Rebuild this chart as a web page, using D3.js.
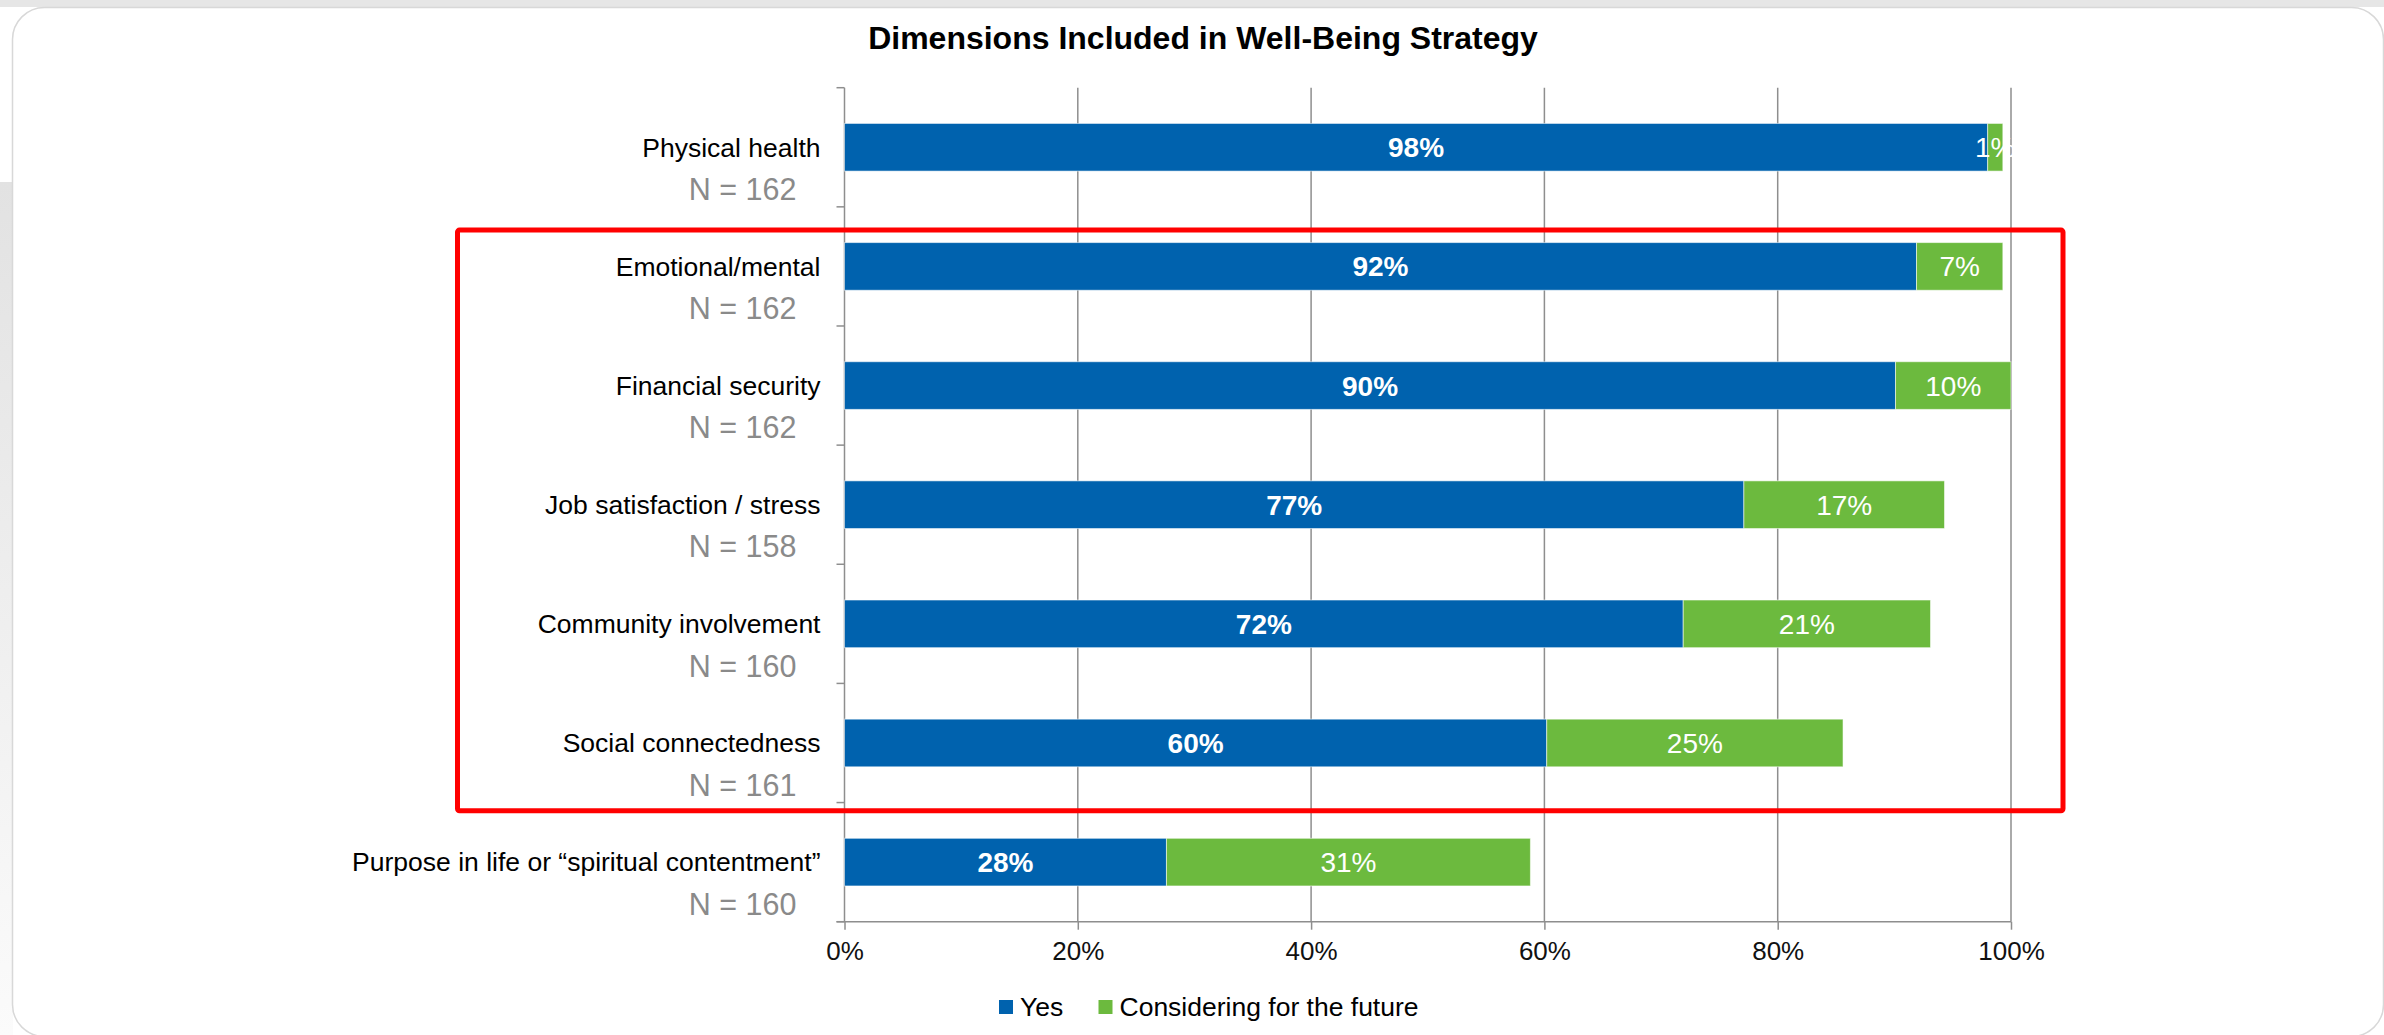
<!DOCTYPE html>
<html>
<head>
<meta charset="utf-8">
<script src="https://cdn.jsdelivr.net/npm/d3@7"></script>
<style>
  html, body { margin: 0; padding: 0; background: #fff; }
  svg { display: block; font-family: 'Liberation Sans', Arial, sans-serif; }
</style>
</head>
<body>
<svg id="chart"></svg>
<script>
'use strict';

var categories = ['Physical health', 'Emotional/mental', 'Financial security',
  'Job satisfaction / stress', 'Community involvement', 'Social connectedness',
  'Purpose in life or \u201cspiritual contentment\u201d'];
var sampleSizes = [162, 162, 162, 158, 160, 161, 160];
var yesValues = [98.0, 91.9, 90.1, 77.1, 71.9, 60.2, 27.6];
var futureValues = [1.3, 7.4, 9.9, 17.2, 21.2, 25.4, 31.2];
var yesLabels = ['98%', '92%', '90%', '77%', '72%', '60%', '28%'];
var futureLabels = ['1%', '7%', '10%', '17%', '21%', '25%', '31%'];
var xTicks = [0, 20, 40, 60, 80, 100];
var seriesNames = ['Yes', 'Considering for the future'];
var highlighted = ['Emotional/mental', 'Social connectedness'];

var width = 2384,
    height = 1035;
var colors = { yes: '#0062ae', future: '#6cba3e', grid: '#8e8e8e' };

var svg = d3.select('#chart')
  .attr('width', width)
  .attr('height', height);

// page background bits around the card
svg.append('rect')
  .attr('x', 0).attr('y', 0)
  .attr('width', width).attr('height', 7)
  .attr('fill', '#e6e6e6');

var grad = svg.append('defs').append('linearGradient')
  .attr('id', 'sideGrad')
  .attr('x1', 0).attr('y1', 0).attr('x2', 0).attr('y2', 1);
grad.append('stop').attr('offset', '0%').attr('stop-color', '#e2e2e2');
grad.append('stop').attr('offset', '100%').attr('stop-color', '#fbfbfb');
svg.append('rect')
  .attr('x', 0).attr('y', 182)
  .attr('width', 13).attr('height', height - 182)
  .attr('fill', 'url(#sideGrad)');

svg.append('rect')
  .attr('x', 12.5).attr('y', 7.5)
  .attr('width', width - 13).attr('height', height - 6)
  .attr('rx', 32).attr('ry', 32)
  .attr('fill', '#fff')
  .attr('stroke', '#d8d8d8')
  .attr('stroke-width', 1.5);

svg.append('text')
  .attr('x', 1203)
  .attr('y', 38)
  .attr('dy', '0.35em')
  .attr('text-anchor', 'middle')
  .style('font-weight', 'bold')
  .style('font-size', '32px')
  .attr('fill', '#000')
  .text('Dimensions Included in Well-Being Strategy');

var x = d3.scaleLinear()
  .domain([0, 100])
  .range([844.5, 2011]);

var y = d3.scaleBand()
  .domain(categories)
  .range([87.7, 921.7])
  .paddingInner(0.6)
  .paddingOuter(0.3);

var plot = svg.append('g');

// vertical gridlines
plot.append('g')
  .selectAll('line')
  .data(xTicks.slice(1))
  .enter()
  .append('line')
  .attr('x1', d => x(d)).attr('x2', d => x(d))
  .attr('y1', y.range()[0]).attr('y2', y.range()[1])
  .attr('stroke', colors.grid)
  .attr('stroke-width', 1.5);

// bottom axis
var xAxis = d3.axisBottom(x)
  .tickValues(xTicks)
  .tickSize(8)
  .tickPadding(12)
  .tickFormat(d => d + '%');
var xg = plot.append('g')
  .attr('transform', 'translate(0,' + y.range()[1] + ')')
  .call(xAxis);
xg.select('.domain').attr('stroke', colors.grid).attr('stroke-width', 1.5)
  .attr('d', 'M' + (x(0) - 8) + ',0H' + x(100));
xg.selectAll('.tick line').attr('stroke', colors.grid).attr('stroke-width', 1.5);
xg.selectAll('.tick text')
  .attr('fill', '#111')
  .style('font-size', '26px')
  .style('font-family', "'Liberation Sans', Arial, sans-serif");

// left axis line with ticks between categories
var boundaries = d3.range(categories.length + 1).map(i => y.range()[0] + i * y.step());
plot.append('line')
  .attr('x1', x(0)).attr('x2', x(0))
  .attr('y1', y.range()[0]).attr('y2', y.range()[1])
  .attr('stroke', colors.grid)
  .attr('stroke-width', 1.5);
plot.append('g')
  .selectAll('line')
  .data(boundaries)
  .enter()
  .append('line')
  .attr('x1', x(0) - 8).attr('x2', x(0))
  .attr('y1', d => d).attr('y2', d => d)
  .attr('stroke', colors.grid)
  .attr('stroke-width', 1.5);

var rows = categories.map((c, i) => ({
  name: c, n: sampleSizes[i],
  yes: yesValues[i], future: futureValues[i],
  yesLabel: yesLabels[i], futureLabel: futureLabels[i]
}));

var row = plot.append('g')
  .selectAll('g')
  .data(rows)
  .enter()
  .append('g');

row.append('rect')
  .attr('x', x(0))
  .attr('y', d => y(d.name))
  .attr('width', d => x(d.yes) - x(0))
  .attr('height', y.bandwidth())
  .attr('fill', colors.yes)
  .attr('stroke', 'rgba(255,255,255,0.55)')
  .attr('stroke-width', 1);

row.append('rect')
  .attr('x', d => x(d.yes))
  .attr('y', d => y(d.name))
  .attr('width', d => x(d.yes + d.future) - x(d.yes))
  .attr('height', y.bandwidth())
  .attr('fill', colors.future)
  .attr('stroke', 'rgba(255,255,255,0.55)')
  .attr('stroke-width', 1);

row.append('text')
  .attr('x', d => (x(0) + x(d.yes)) / 2)
  .attr('y', d => y(d.name) + y.bandwidth() / 2)
  .attr('dy', '0.36em')
  .attr('text-anchor', 'middle')
  .attr('fill', '#fff')
  .style('font-weight', 'bold')
  .style('font-size', '28px')
  .text(d => d.yesLabel);

row.append('text')
  .attr('x', d => (x(d.yes) + x(d.yes + d.future)) / 2)
  .attr('y', d => y(d.name) + y.bandwidth() / 2)
  .attr('dy', '0.36em')
  .attr('text-anchor', 'middle')
  .attr('fill', '#fff')
  .style('font-size', '28px')
  .text(d => d.futureLabel);

row.append('text')
  .attr('x', x(0) - 24)
  .attr('y', d => y(d.name) + y.bandwidth() / 2)
  .attr('dy', '0.35em')
  .attr('text-anchor', 'end')
  .attr('fill', '#000')
  .style('font-size', '26.5px')
  .text(d => d.name);

row.append('text')
  .attr('x', x(0) - 48)
  .attr('y', d => y(d.name) + y.bandwidth() / 2 + 42)
  .attr('dy', '0.35em')
  .attr('text-anchor', 'end')
  .attr('fill', '#8a8a8a')
  .style('font-size', '30.5px')
  .text(d => 'N = ' + d.n);

// red highlight box
var boxTop = y(highlighted[0]) - 12.5,
    boxBottom = y(highlighted[1]) + y.bandwidth() + 44;
svg.append('rect')
  .attr('x', x(0) - 387)
  .attr('y', boxTop)
  .attr('width', x(100) + 52 - (x(0) - 387))
  .attr('height', boxBottom - boxTop)
  .attr('rx', 2)
  .attr('fill', 'none')
  .attr('stroke', '#ff0000')
  .attr('stroke-width', 5);

// legend
var legend = svg.append('g')
  .attr('transform', 'translate(999,1007)');
var legendColors = [colors.yes, colors.future];
var legendX = [0, 99.5];
var item = legend.selectAll('g')
  .data(seriesNames)
  .enter()
  .append('g')
  .attr('transform', (d, i) => 'translate(' + legendX[i] + ',0)');
item.append('rect')
  .attr('x', 0).attr('y', -7)
  .attr('width', 14).attr('height', 14)
  .attr('fill', (d, i) => legendColors[i]);
item.append('text')
  .attr('x', 21)
  .attr('y', 0)
  .attr('dy', '0.35em')
  .attr('fill', '#000')
  .style('font-size', '26.5px')
  .text(d => d);
</script>
</body>
</html>
